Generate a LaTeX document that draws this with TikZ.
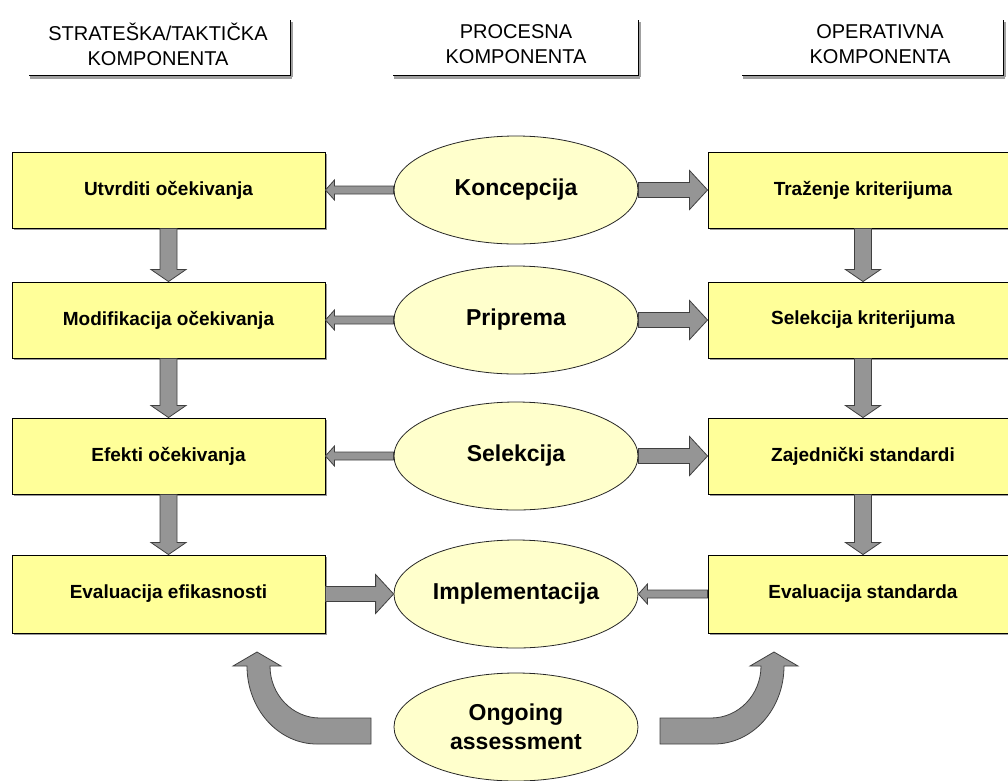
\documentclass[tikz,border=0pt]{standalone}
\usepackage{fontspec}
\setmainfont{Liberation Sans}
\usetikzlibrary{shapes.geometric,calc,shadows}

\definecolor{boxyellow}{HTML}{FFFF99}
\definecolor{ovalyellow}{HTML}{FFFFCC}
\definecolor{arrowgray}{HTML}{959595}
\definecolor{rulegray}{HTML}{A0A0A0}

\tikzset{
  stagebox/.style={rectangle, draw=black, line width=0.9pt, fill=boxyellow,
    minimum height=76pt, inner sep=0pt,
    font=\fontsize{19}{22}\selectfont\bfseries,
    drop shadow={shadow xshift=1.5pt, shadow yshift=-2pt, fill=black!40, opacity=1}},
  phase/.style={ellipse, draw=black!85, line width=0.8pt, fill=ovalyellow,
    minimum width=244pt, minimum height=108pt, inner sep=0pt, align=center,
    font=\fontsize{23}{29}\selectfont\bfseries},
  header/.style={align=center, inner sep=0pt, font=\fontsize{20}{25}\selectfont},
  headrule/.style={draw=black, line width=0.9pt},
  headshadow/.style={draw=rulegray, line width=3pt},
  blockarrow/.style={fill=arrowgray, draw=black!75, line width=0.8pt, line join=miter},
}

% block arrow: tail, tip, shaft half width, head half width, head length
\newcommand{\blockarrow}[5]{%
  \coordinate (ba-t) at #1;
  \coordinate (ba-p) at #2;
  \coordinate (ba-c) at ($(ba-p)!#5!(ba-t)$);
  \draw[blockarrow] ($(ba-t)!#3!90:(ba-p)$) -- ($(ba-c)!#3!90:(ba-p)$)
    -- ($(ba-c)!#4!90:(ba-p)$) -- (ba-p) -- ($(ba-c)!#4!-90:(ba-p)$)
    -- ($(ba-c)!#3!-90:(ba-p)$) -- ($(ba-t)!#3!-90:(ba-p)$) -- cycle;
}
\newcommand{\thinarrow}[2]{\blockarrow{#1}{#2}{4pt}{10pt}{9pt}}
\newcommand{\thickarrow}[2]{\blockarrow{#1}{#2}{7.5pt}{19.5pt}{18pt}}
\newcommand{\flowdown}[2]{\blockarrow{#1}{#2}{8.5pt}{17.5pt}{12pt}}

\begin{document}
\begin{tikzpicture}[x=1pt,y=-1pt]
\useasboundingbox (0,0) rectangle (1008,780);

% column headers
\node[header] (h1) at (158,44) {STRATEŠKA/TAKTIČKA\\KOMPONENTA};
\node[header] (h2) at (516,44) {PROCESNA\\KOMPONENTA};
\node[header] (h3) at (880,44) {OPERATIVNA\\KOMPONENTA};
\foreach \a/\b in {29/290, 393/638, 742/1003}{
  \draw[headshadow] (\a+1,77.5) -- (\b+1.5,77.5);
  \draw[draw=rulegray, line width=1.5pt] (\b+1.8,22) -- (\b+1.8,77);
  \draw[headrule] (\a,75) -- (\b,75) -- (\b,20);
}

% strategic / tactical column
\node[stagebox, minimum width=313pt] (L1) at (168.5,190) {Utvrditi očekivanja};
\node[stagebox, minimum width=313pt] (L2) at (168.5,320) {Modifikacija očekivanja};
\node[stagebox, minimum width=313pt] (L3) at (168.5,456) {Efekti očekivanja};
\node[stagebox, minimum width=313pt, minimum height=78pt] (L4) at (168.5,594) {Evaluacija efikasnosti};

% operative column
\node[stagebox, minimum width=310pt] (R1) at (863,190) {Traženje kriterijuma};
\node[stagebox, minimum width=310pt] (R2) at (863,320) {Selekcija kriterijuma};
\node[stagebox, minimum width=310pt] (R3) at (863,456) {Zajednički standardi};
\node[stagebox, minimum width=310pt, minimum height=78pt] (R4) at (863,594) {Evaluacija standarda};

% process column
\node[phase] (P1) at (516,190) {Koncepcija};
\node[phase] (P2) at (516,320) {Priprema};
\node[phase] (P3) at (516,456) {Selekcija};
\node[phase] (P4) at (516,594) {Implementacija};
\node[phase] (P5) at (516,727) {Ongoing\\assessment};

% vertical flow
\flowdown{(L1.south)}{(L2.north)}
\flowdown{(L2.south)}{(L3.north)}
\flowdown{(L3.south)}{(L4.north)}
\flowdown{(R1.south)}{(R2.north)}
\flowdown{(R2.south)}{(R3.north)}
\flowdown{(R3.south)}{(R4.north)}

% horizontal flow
\thinarrow{(P1.west)}{(L1.east)}
\thinarrow{(P2.west)}{(L2.east)}
\thinarrow{(P3.west)}{(L3.east)}
\thickarrow{(P1.east)}{(R1.west)}
\thickarrow{(P2.east)}{(R2.west)}
\thickarrow{(P3.east)}{(R3.west)}
\thickarrow{(L4.east)}{(P4.west)}
\thinarrow{(R4.west)}{(P4.east)}

% curved feedback arrows from ongoing assessment
\draw[blockarrow] (371,744) -- (317,744)
  arc[start angle=90, end angle=180, x radius=70, y radius=78]
  -- (233,666) -- (257,652) -- (281,666) -- (270,666)
  arc[start angle=180, end angle=90, x radius=50, y radius=52]
  -- (371,718) -- cycle;
\begin{scope}[shift={(1031,0)}, xscale=-1]
\draw[blockarrow] (371,744) -- (317,744)
  arc[start angle=90, end angle=180, x radius=70, y radius=78]
  -- (233,666) -- (257,652) -- (281,666) -- (270,666)
  arc[start angle=180, end angle=90, x radius=50, y radius=52]
  -- (371,718) -- cycle;
\end{scope}
\end{tikzpicture}
\end{document}
